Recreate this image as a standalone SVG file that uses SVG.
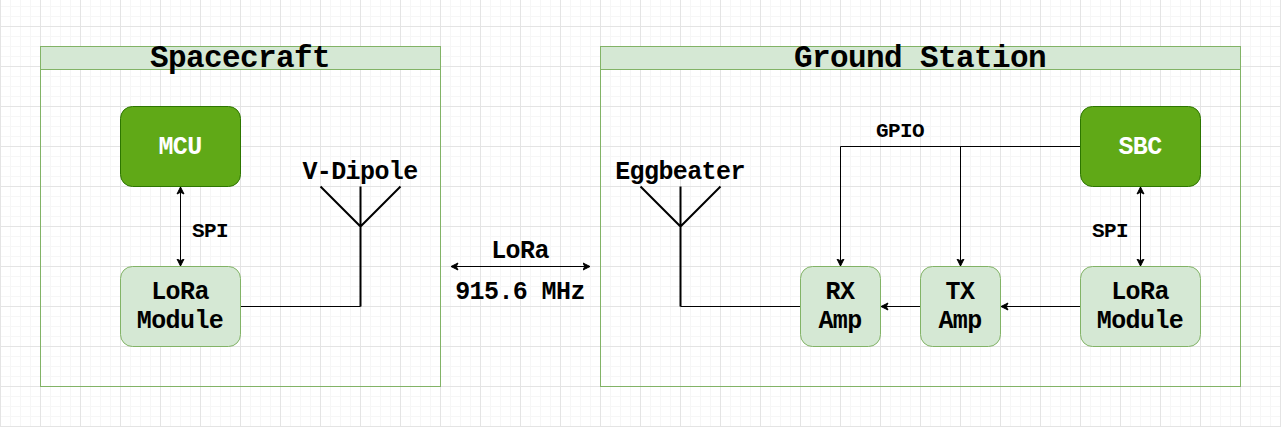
<svg xmlns="http://www.w3.org/2000/svg" width="1281" height="427" viewBox="0 0 1281 427">
<style>
text{font-family:"Liberation Mono","Courier New",monospace;font-weight:700;text-anchor:middle;fill:#000;letter-spacing:-.6px}
.t30{font-size:31px}.t24{font-size:25px}.t20{font-size:21px}
.box{fill:#d5e8d4;stroke:#82b366;stroke-width:1}
.frame{fill:none;stroke:#82b366;stroke-width:1}
.dark{fill:#60a917;stroke:#2d7600;stroke-width:1}
.c{fill:none;stroke:#000;stroke-width:1}
.a{fill:none;stroke:#000;stroke-width:2}
</style>
<defs>
<pattern id="minor" width="10" height="10" patternUnits="userSpaceOnUse" x="0" y="6">
<path d="M0 .5H10M.5 0V10" fill="none" stroke="#f6f6f6" stroke-width="1"/>
</pattern>
<pattern id="major" width="40" height="40" patternUnits="userSpaceOnUse" x="0" y="26">
<path d="M0 .5H40M.5 0V40" fill="none" stroke="#e4e4e4" stroke-width="1"/>
</pattern>
<marker id="e" markerUnits="userSpaceOnUse" markerWidth="9" markerHeight="9" refX="7.500" refY="4" orient="auto-start-reverse" viewBox="0 0 9 8">
<path d="M0.500 0.500L7.500 4L0.500 7.500L2.250 4Z" fill="#000" stroke="#000"/>
</marker>
</defs>
<rect width="1281" height="427" fill="#fff"/>
<rect width="1281" height="427" fill="url(#minor)"/>
<rect width="1281" height="427" fill="url(#major)"/>

<g id="spacecraft">
<rect class="frame" x="40.500" y="46.500" width="400" height="340"/>
<rect class="box" x="40.500" y="46.500" width="400" height="23"/>
<text class="t30" x="240" y="67">Spacecraft</text>
</g>
<g id="ground-station">
<rect class="frame" x="600.500" y="46.500" width="640" height="340"/>
<rect class="box" x="600.500" y="46.500" width="640" height="23"/>
<text class="t30" x="920" y="67">Ground Station</text>
</g>

<g id="connectors">
<path class="c" d="M180.500 187V266" marker-start="url(#e)" marker-end="url(#e)"/>
<path class="c" d="M241 306.500H360.500"/>
<path class="c" d="M451 266.500H590" marker-start="url(#e)" marker-end="url(#e)"/>
<path class="c" d="M1080 146.500H840.500V266" marker-end="url(#e)"/>
<path class="c" d="M960.500 146.500V266" marker-end="url(#e)"/>
<path class="c" d="M1140.500 187V266" marker-start="url(#e)" marker-end="url(#e)"/>
<path class="c" d="M1080 306.500H1001" marker-end="url(#e)"/>
<path class="c" d="M920 306.500H881" marker-end="url(#e)"/>
<path class="c" d="M800 306.500H680.500"/>
</g>

<g id="mcu"><rect class="dark" x="120.500" y="106.500" width="120" height="80" rx="12"/><text class="t24" style="fill:#fff" x="180" y="154">MCU</text></g>
<g id="lora-module-a"><rect class="box" x="120.500" y="266.500" width="120" height="80" rx="12"/><text class="t24" x="180" y="299">LoRa</text><text class="t24" x="180" y="328">Module</text></g>
<g id="v-dipole"><path class="a" d="M320.500 186.500L360.500 226.500L400.500 186.500M360.500 186.500V306.500"/><text class="t24" x="360" y="179">V-Dipole</text></g>
<g id="eggbeater"><path class="a" d="M640.500 186.500L680.500 226.500L720.500 186.500M680.500 186.500V306.500"/><text class="t24" x="680" y="179">Eggbeater</text></g>
<g id="sbc"><rect class="dark" x="1080.500" y="106.500" width="120" height="80" rx="12"/><text class="t24" style="fill:#fff" x="1140" y="154">SBC</text></g>
<g id="lora-module-b"><rect class="box" x="1080.500" y="266.500" width="120" height="80" rx="12"/><text class="t24" x="1140" y="299">LoRa</text><text class="t24" x="1140" y="328">Module</text></g>
<g id="tx-amp"><rect class="box" x="920.500" y="266.500" width="80" height="80" rx="12"/><text class="t24" x="960" y="299">TX</text><text class="t24" x="960" y="328">Amp</text></g>
<g id="rx-amp"><rect class="box" x="800.500" y="266.500" width="80" height="80" rx="12"/><text class="t24" x="840" y="299">RX</text><text class="t24" x="840" y="328">Amp</text></g>

<g id="labels">
<text class="t20" x="210" y="237">SPI</text>
<text class="t20" x="1110" y="237">SPI</text>
<text class="t20" x="900" y="137">GPIO</text>
<text class="t24" x="520" y="258">LoRa</text>
<text class="t24" x="520" y="299">915.6 MHz</text>
</g>
</svg>
